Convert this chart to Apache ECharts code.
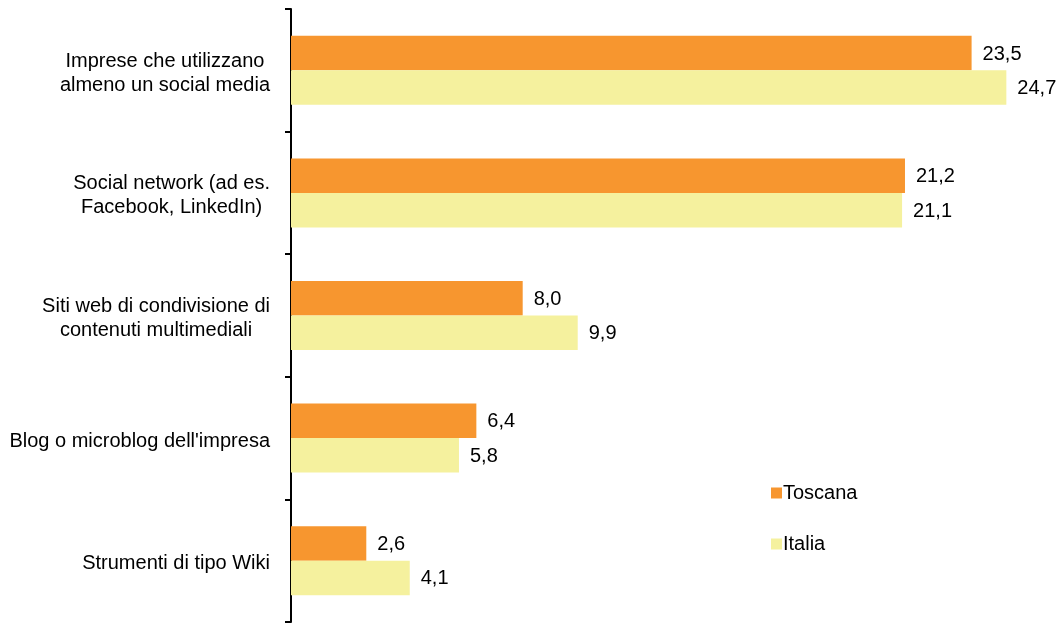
<!DOCTYPE html>
<html>
<head>
<meta charset="utf-8">
<script src="https://cdn.jsdelivr.net/npm/echarts@6/dist/echarts.min.js"></script>
<style>
  html, body { margin: 0; padding: 0; background: #fff; }
  #chart { width: 1058px; height: 624px; }
</style>
</head>
<body>
<div id="chart"></div>
<script>
// categories, top to bottom
const categories = [
  'Imprese che utilizzano\nalmeno un social media',
  'Social network (ad es.\nFacebook, LinkedIn)',
  'Siti web di condivisione di\ncontenuti multimediali',
  "Blog o microblog dell'impresa",
  'Strumenti di tipo Wiki'
]
const toscana = [23.5, 21.2, 8.0, 6.4, 2.6]
const italia = [24.7, 21.1, 9.9, 5.8, 4.1]
const seriesNames = ['Toscana', 'Italia']

const font = 'Liberation Sans, Arial, sans-serif'
const fs = 20

function fmt(v) {
  return v.toFixed(1).replace('.', ',')
}

function valueLabel() {
  return {
    show: true,
    position: 'right',
    distance: 11,
    offset: [0, 1],
    color: '#000',
    fontFamily: font,
    fontSize: fs,
    formatter: p => fmt(p.value)
  }
}

const chart = echarts.init(document.getElementById('chart'))
chart.setOption({
  animation: false,
  grid: {
    left: 291,
    right: 14,
    top: 9,
    bottom: 2
  },
  legend: {
    orient: 'vertical',
    left: 766,
    top: 478,
    itemWidth: 11,
    itemHeight: 11,
    itemGap: 31,
    icon: 'rect',
    data: seriesNames,
    textStyle: {
      fontFamily: font,
      fontSize: fs,
      color: '#000',
      padding: [0, 0, 0, -4]
    }
  },
  xAxis: {
    type: 'value',
    min: 0,
    max: 26,
    show: false,
    splitLine: { show: false }
  },
  yAxis: {
    type: 'category',
    inverse: true,
    data: categories,
    axisLine: { show: true, lineStyle: { color: '#000', width: 2 } },
    axisTick: { show: true, alignWithLabel: false, length: 6, lineStyle: { color: '#000', width: 2 } },
    axisLabel: {
      margin: 21,
      color: '#000',
      fontFamily: font,
      fontSize: fs,
      lineHeight: 24,
      padding: [6, 0, 0, 0],
      formatter: function(v) {
        return v.split('\n').map(l => '{c|' + l + '}').join('\n')
      },
      rich: {
        c: {
          align: 'center',
          fontFamily: font,
          fontSize: fs,
          lineHeight: 24,
          color: '#000'
        }
      }
    }
  },
  series: [
    {
      name: seriesNames[0],
      type: 'bar',
      data: toscana,
      barWidth: 34.5,
      barGap: 0,
      itemStyle: { color: '#F7962F' },
      label: valueLabel()
    },
    {
      name: seriesNames[1],
      type: 'bar',
      data: italia,
      barWidth: 34.5,
      barGap: 0,
      itemStyle: { color: '#F5F19E' },
      label: valueLabel()
    }
  ]
})
</script>
</body>
</html>
